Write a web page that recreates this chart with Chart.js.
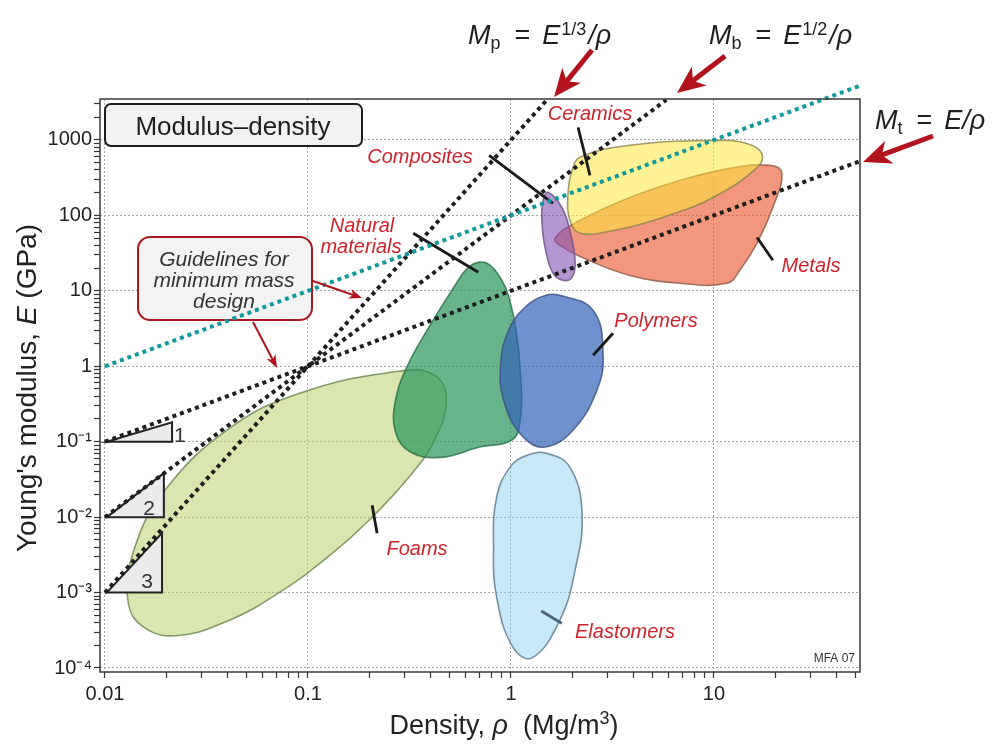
<!DOCTYPE html>
<html>
<head>
<meta charset="utf-8">
<title>Modulus–density</title>
<script src="https://cdn.jsdelivr.net/npm/chart.js@4.4.1/dist/chart.umd.min.js"></script>
<style>
  html, body { margin: 0; padding: 0; background: #fff; }
</style>
</head>
<body>
<canvas id="chart" width="992" height="744"></canvas>
<script>
var FONT = "'Liberation Sans', Arial, Helvetica, sans-serif";

// axis ranges and ticks
var rhoRange = [0.00945, 52.4];
var modulusRange = [8.85e-5, 3490];
var xTickValues = [0.01, 0.1, 1, 10];
var xTickLabels = ['0.01', '0.1', '1', '10'];
var yTickValues = [1e-4, 1e-3, 1e-2, 1e-1, 1, 10, 100, 1000];
var yTickLabels = ['10⁻⁴', '10⁻³', '10⁻²', '10⁻¹', '1', '10', '100', '1000'];

// guideline ends, [rho, E]
var guideTeal = [[0.01, 1], [52, 5200]];
var guideMt = [[0.01, 0.1], [52, 520]];
var guideMb = [[0.01, 0.01], [5.83, 3400]];
var guideMp = [[0.01, 0.001], [1.504, 3400]];

// slope triangles
var slope1 = [[0.0102, 0.1], [0.0214, 0.181], [0.0214, 0.1]];
var slope2 = [[0.0102, 0.01], [0.0195, 0.0383], [0.0195, 0.01]];
var slope3 = [[0.0102, 0.001], [0.0191, 0.00614], [0.0191, 0.001]];

// material family envelopes, [rho (Mg/m3), E (GPa)]
var foams = [[0.013, 7.5e-4], [0.0139, 0.0037], [0.0198, 0.023], [0.041, 0.15], [0.091, 0.44],
             [0.28, 0.86], [0.42, 0.76], [0.48, 0.36], [0.42, 0.105], [0.32, 0.036], [0.20, 0.0091],
             [0.128, 0.0031], [0.073, 0.00102], [0.041, 4.3e-4], [0.023, 2.7e-4], [0.0157, 3.4e-4]];
var natural = [[0.70, 24], [0.79, 21.8], [0.90, 13.8], [0.97, 8.7], [1.06, 3.0], [1.12, 0.65],
               [1.11, 0.19], [1.01, 0.105], [0.70, 0.085], [0.45, 0.062], [0.32, 0.073], [0.27, 0.134],
               [0.27, 0.355], [0.31, 1.03], [0.40, 3.5], [0.53, 11.8], [0.61, 19.9]];
var polymers = [[1.74, 8.7], [2.54, 5.5], [2.84, 1.49], [2.65, 0.48], [2.02, 0.142], [1.47, 0.085],
                [1.15, 0.115], [0.93, 0.32], [0.89, 1.10], [0.99, 3.3], [1.20, 6.4], [1.44, 8.5]];
var elastomers = [[1.50, 0.070], [1.95, 0.046], [2.24, 0.0113], [2.07, 0.0020], [1.74, 4.3e-4],
                  [1.27, 1.36e-4], [1.02, 1.9e-4], [0.85, 8.7e-4], [0.82, 0.0040], [0.85, 0.0184],
                  [0.99, 0.046], [1.20, 0.066]];
var composites = [[1.52, 202], [1.78, 128], [1.95, 63], [2.07, 25], [2.0, 15.1], [1.80, 13.8],
                  [1.61, 17.1], [1.47, 38], [1.42, 86], [1.44, 158]];
var ceramics = [[2.19, 590], [3.86, 850], [9.9, 985], [14.5, 900], [17.2, 660], [16.3, 430],
                [9.9, 173], [5.6, 94], [3.2, 63], [2.19, 58], [1.95, 86], [1.91, 196], [2.0, 394]];
var metals = [[1.65, 50], [2.19, 86], [3.86, 173], [6.8, 290], [12, 420], [18.9, 460], [21.6, 360],
              [19.5, 128], [16.3, 43], [13.4, 18.7], [11.6, 12.6], [6.8, 12.6], [3.86, 16], [2.45, 25],
              [1.80, 38]];

// label leader lines
var leadCeramics = [[2.14, 1465], [2.45, 339]];
var leadComposites = [[0.78, 623], [1.61, 144]];
var leadNatural = [[0.33, 58], [0.69, 17.6]];
var leadPolymers = [[3.18, 2.74], [2.54, 1.40]];
var leadMetals = [[16.3, 51], [19.5, 25.4]];
var leadFoams = [[0.207, 0.0144], [0.219, 0.0061]];
var leadElastomers = [[1.41, 5.7e-4], [1.78, 3.9e-4]];

// text annotations: text, x, baseline
var regionLabels = [['Ceramics', 590, 120], ['Composites', 420, 163], ['Natural', 362, 232],
                    ['materials', 361, 253], ['Polymers', 656, 327], ['Metals', 811, 272],
                    ['Foams', 417, 555], ['Elastomers', 625, 638]];

var pts = function (a) {
   return a.map(function (p) { return {x: p[0], y: p[1]}; });
};

var region = function (label, data, fill, line) {
   return {label: label, data: pts(data), closed: true, fill: 'shape', backgroundColor: fill,
           borderColor: line, borderWidth: 1.6, tension: 0.42, pointRadius: 0};
};

var guide = function (label, data, color, width, dash, extra) {
   var ds = {label: label, data: pts(data), borderColor: color, borderWidth: width, borderDash: dash,
             borderCapStyle: 'butt', fill: false, tension: 0, pointRadius: 0};
   return Object.assign(ds, extra || {});
};

var triangle = function (label, data) {
   return {label: label, data: pts(data), closed: true, fill: 'shape', backgroundColor: '#ebebeb',
           borderColor: '#222', borderWidth: 2, tension: 0, pointRadius: 0};
};

var isNice = function (v) {
   var e = Math.floor(Math.log10(v) + 1e-9);
   var m = v / Math.pow(10, e);
   return Math.abs(m - Math.round(m)) < 1e-6;
};
var isDecade = function (v) {
   return v !== undefined && Math.abs(Math.log10(v) - Math.round(Math.log10(v))) < 1e-6;
};
var tickText = function (v, values, labels) {
   var i = values.findIndex(function (t) { return Math.abs(Math.log10(t) - Math.log10(v)) < 1e-6; });
   return i >= 0 ? labels[i] : '';
};

// let a line dataset close back on itself, the way radar lines do
var closeShapes = {
   id: 'closeShapes',
   afterDatasetUpdate: function (chart, args) {
      var ds = chart.data.datasets[args.index];
      if (ds.closed && args.meta.dataset) {
         args.meta.dataset._loop = true;
         args.meta.dataset._fullLoop = true;
      }
   }
};

var roundRect = function (ctx, x, y, w, h, r) {
   ctx.beginPath();
   ctx.moveTo(x + r, y);
   ctx.arcTo(x + w, y, x + w, y + h, r);
   ctx.arcTo(x + w, y + h, x, y + h, r);
   ctx.arcTo(x, y + h, x, y, r);
   ctx.arcTo(x, y, x + w, y, r);
   ctx.closePath();
};

var runs = function (ctx, x, y, parts, align) {
   var w = 0;
   parts.forEach(function (p) { ctx.font = p.f; w += ctx.measureText(p.t).width + (p.g || 0); });
   var cx = align === 'center' ? x - w / 2 : (align === 'right' ? x - w : x);
   ctx.textAlign = 'left';
   parts.forEach(function (p) {
      ctx.font = p.f;
      ctx.fillText(p.t, cx, y + (p.dy || 0));
      cx += ctx.measureText(p.t).width + (p.g || 0);
   });
};

var arrow = function (ctx, x1, y1, x2, y2, width, head, half, color) {
   var a = Math.atan2(y2 - y1, x2 - x1);
   var c = Math.cos(a), s = Math.sin(a);
   var bx = x2 - head * c, by = y2 - head * s;
   ctx.strokeStyle = color;
   ctx.lineWidth = width;
   ctx.beginPath();
   ctx.moveTo(x1, y1);
   ctx.lineTo(x2 - head * 0.6 * c, y2 - head * 0.6 * s);
   ctx.stroke();
   ctx.fillStyle = color;
   ctx.beginPath();
   ctx.moveTo(x2, y2);
   ctx.lineTo(bx + half * s, by - half * c);
   ctx.lineTo(x2 - head * 0.72 * c, y2 - head * 0.72 * s);
   ctx.lineTo(bx - half * s, by + half * c);
   ctx.closePath();
   ctx.fill();
};

var f = function (size, italic) {
   return (italic ? 'italic ' : '') + size + 'px ' + FONT;
};

var annotate = {
   id: 'annotate',
   beforeDatasetsDraw: function (chart) {
      var ctx = chart.ctx;
      ctx.save();
      // chart title box
      roundRect(ctx, 105, 104, 257, 42, 6);
      ctx.fillStyle = '#f2f2f2';
      ctx.fill();
      ctx.lineWidth = 2;
      ctx.strokeStyle = '#1e1e1e';
      ctx.stroke();
      ctx.fillStyle = '#1e1e1e';
      ctx.font = f(26);
      ctx.textAlign = 'center';
      ctx.fillText('Modulus–density', 233, 135);
      // guidelines box
      roundRect(ctx, 138, 237, 174, 83, 12);
      ctx.fillStyle = '#f3f3f3';
      ctx.fill();
      ctx.strokeStyle = '#a8181f';
      ctx.stroke();
      ctx.fillStyle = '#333';
      ctx.font = f(21, true);
      ctx.fillText('Guidelines for', 224, 266);
      ctx.fillText('minimum mass', 224, 287);
      ctx.fillText('design', 224, 308);
      ctx.restore();
   },
   afterDatasetsDraw: function (chart) {
      var ctx = chart.ctx;
      var area = chart.chartArea;
      ctx.save();
      // plot frame
      ctx.strokeStyle = '#3a3a3a';
      ctx.lineWidth = 1.5;
      ctx.strokeRect(area.left, area.top, area.right - area.left, area.bottom - area.top);

      // family labels
      ctx.fillStyle = '#d0222c';
      ctx.font = f(20, true);
      ctx.textAlign = 'center';
      regionLabels.forEach(function (l) { ctx.fillText(l[0], l[1], l[2]); });

      // slope numbers
      ctx.fillStyle = '#333';
      ctx.font = f(21);
      ctx.textAlign = 'left';
      ctx.fillText('1', 174, 442);
      ctx.textAlign = 'center';
      ctx.fillText('2', 149, 515);
      ctx.fillText('3', 147, 588);

      ctx.font = f(12);
      ctx.textAlign = 'right';
      ctx.fillText('MFA 07', 855, 662);

      // arrows
      var red = '#b3131c';
      arrow(ctx, 313, 281, 362, 298, 2, 13, 5, red);
      arrow(ctx, 253, 322, 277, 368, 2, 13, 5, red);
      arrow(ctx, 592, 50, 554, 97, 5, 28, 12, red);
      arrow(ctx, 725, 56, 677, 93, 5, 28, 12, red);
      arrow(ctx, 933, 136, 863, 162, 5, 28, 12, red);

      // index formulas
      ctx.fillStyle = '#1e1e1e';
      runs(ctx, 468, 44, [
         {t: 'M', f: f(27, true)}, {t: 'p', f: f(18), dy: 5, g: 14}, {t: '=', f: f(27), g: 12},
         {t: 'E', f: f(27, true), g: 1}, {t: '1/3', f: f(18), dy: -9, g: 2}, {t: '/ρ', f: f(27, true)}]);
      runs(ctx, 709, 44, [
         {t: 'M', f: f(27, true)}, {t: 'b', f: f(18), dy: 5, g: 14}, {t: '=', f: f(27), g: 12},
         {t: 'E', f: f(27, true), g: 1}, {t: '1/2', f: f(18), dy: -9, g: 2}, {t: '/ρ', f: f(27, true)}]);
      runs(ctx, 875, 129, [
         {t: 'M', f: f(27, true)}, {t: 't', f: f(18), dy: 5, g: 14}, {t: '=', f: f(27), g: 12},
         {t: 'E/ρ', f: f(27, true)}]);

      // axis titles
      ctx.fillStyle = '#222';
      runs(ctx, 504, 734, [
         {t: 'Density, ', f: f(27)}, {t: 'ρ', f: f(27, true)}, {t: '  (Mg/m', f: f(27)},
         {t: '3', f: f(18), dy: -10}, {t: ')', f: f(27)}], 'center');
      ctx.translate(36, 388);
      ctx.rotate(-Math.PI / 2);
      runs(ctx, 0, 0, [
         {t: "Young's modulus, ", f: f(28)}, {t: 'E', f: f(28, true)}, {t: ' (GPa)', f: f(28)}], 'center');
      ctx.restore();
   }
};

var keepNice = function (scale) {
   scale.ticks = scale.ticks.filter(function (t) { return isNice(t.value); });
};

var gridColor = function (c) {
   return c.tick && isDecade(c.tick.value) ? '#a4a4a4' : 'rgba(0,0,0,0)';
};

var dot = [4, 4];
var chart = new Chart(document.getElementById('chart'), {
   type: 'line',
   data: {
      datasets: [
         guide('teal', guideTeal, '#0e9a9c', 4, dot, {clip: false}),
         guide('Mt', guideMt, '#1e1e1e', 4, dot),
         guide('Mb', guideMb, '#1e1e1e', 4, dot),
         guide('Mp', guideMp, '#1e1e1e', 4, dot),
         guide('lead ceramics', leadCeramics, '#1a1a1a', 2.8, []),
         guide('lead composites', leadComposites, '#1a1a1a', 2.8, []),
         guide('lead natural', leadNatural, '#1a1a1a', 2.8, []),
         guide('lead polymers', leadPolymers, '#1a1a1a', 2.8, []),
         guide('lead metals', leadMetals, '#1a1a1a', 2.8, []),
         guide('lead foams', leadFoams, '#1a1a1a', 2.8, []),
         guide('lead elastomers', leadElastomers, '#4d6472', 2.8, []),
         triangle('slope 1', slope1),
         triangle('slope 2', slope2),
         triangle('slope 3', slope3),
         region('Composites', composites, 'rgba(130,80,180,0.6)', 'rgba(110,80,130,0.8)'),
         region('Ceramics', ceramics, 'rgba(255,232,60,0.55)', 'rgba(140,130,80,0.8)'),
         region('Metals', metals, 'rgba(235,95,55,0.65)', 'rgba(140,90,70,0.8)'),
         region('Polymers', polymers, 'rgba(50,100,185,0.7)', 'rgba(60,80,130,0.8)'),
         region('Elastomers', elastomers, 'rgba(145,210,240,0.5)', 'rgba(90,120,140,0.8)'),
         region('Natural materials', natural, 'rgba(40,150,90,0.7)', 'rgba(40,110,70,0.8)'),
         region('Foams', foams, 'rgba(185,210,110,0.55)', 'rgba(110,130,80,0.8)')
      ]
   },
   options: {
      responsive: false,
      animation: false,
      events: [],
      layout: {padding: {left: 0, top: 99, right: 132, bottom: 0}},
      plugins: {
         legend: {display: false},
         tooltip: {enabled: false}
      },
      scales: {
         x: {
            type: 'logarithmic',
            min: rhoRange[0],
            max: rhoRange[1],
            afterBuildTicks: keepNice,
            afterFit: function (scale) { scale.height = 72; },
            grid: {color: gridColor, lineWidth: 1, tickLength: 6, tickColor: '#333', tickWidth: 1.2},
            border: {display: false, dash: [2, 2]},
            ticks: {
               autoSkip: false, maxRotation: 0, padding: 4, color: '#222',
               font: {family: FONT, size: 20},
               callback: function (v) { return tickText(v, xTickValues, xTickLabels); }
            }
         },
         y: {
            type: 'logarithmic',
            min: modulusRange[0],
            max: modulusRange[1],
            afterBuildTicks: keepNice,
            afterFit: function (scale) { scale.width = 100; },
            grid: {color: gridColor, lineWidth: 1, tickLength: 6, tickColor: '#333', tickWidth: 1.2},
            border: {display: false, dash: [2, 2]},
            ticks: {
               autoSkip: false, padding: 2, color: '#222',
               font: {family: FONT, size: 20},
               callback: function (v) { return tickText(v, yTickValues, yTickLabels); }
            }
         }
      }
   },
   plugins: [closeShapes, annotate]
});
</script>
</body>
</html>
